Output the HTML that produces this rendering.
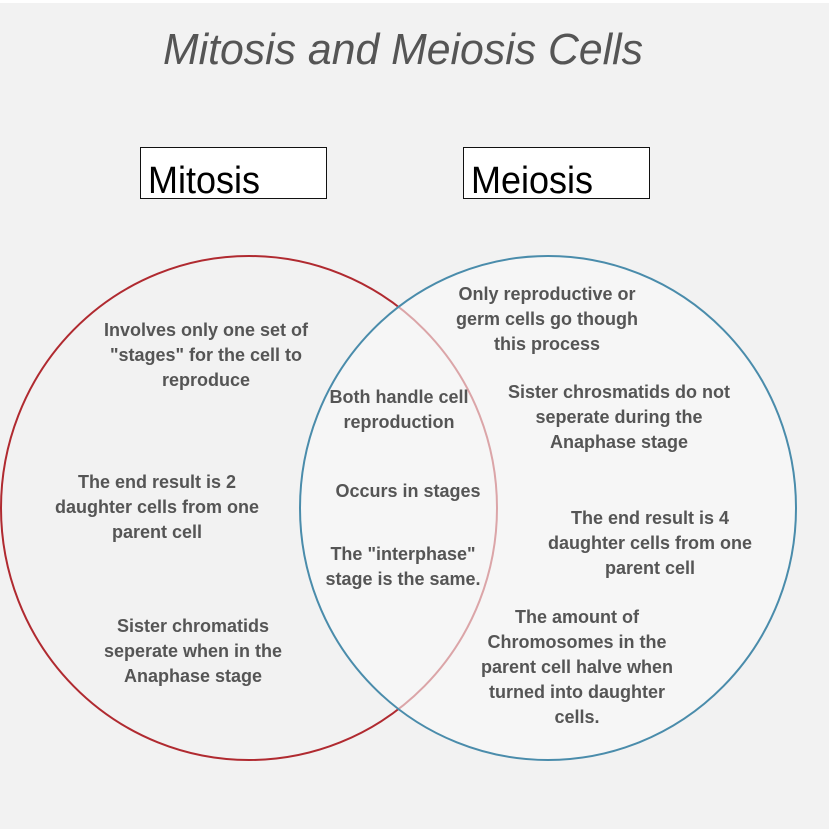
<!DOCTYPE html>
<html><head><meta charset="utf-8"><style>
html,body{margin:0;padding:0;background:#f2f2f2;}
svg{display:block;}
text{font-family:"Liberation Sans",Arial,sans-serif;}
.t{font-weight:bold;font-size:18px;fill:#555;text-anchor:middle;}
</style></head><body>
<svg width="829" height="829" viewBox="0 0 829 829" xmlns="http://www.w3.org/2000/svg">
<rect width="829" height="829" fill="#f2f2f2"/>
<rect x="0" y="0" width="829" height="3" fill="#ffffff"/>
<text x="403" y="64" font-size="44" font-style="italic" fill="#555" text-anchor="middle" textLength="480" lengthAdjust="spacingAndGlyphs">Mitosis and Meiosis Cells</text>
<rect x="140.5" y="147.5" width="186" height="51" fill="#fff" stroke="#111" stroke-width="1"/>
<text x="148" y="193" font-size="38" fill="#000" textLength="112" lengthAdjust="spacingAndGlyphs">Mitosis</text>
<rect x="463.5" y="147.5" width="186" height="51" fill="#fff" stroke="#111" stroke-width="1"/>
<text x="471" y="193" font-size="38" fill="#000" textLength="122" lengthAdjust="spacingAndGlyphs">Meiosis</text>
<ellipse cx="249" cy="508" rx="248" ry="252" fill="none" stroke="#b02a30" stroke-width="2"/>
<ellipse cx="548" cy="508" rx="248" ry="252" fill="rgba(248,248,248,0.6)" stroke="#4a8cab" stroke-width="2"/>
<g class="t">
<text class="t" x="206" y="336">Involves only one set of</text>
<text class="t" x="206" y="361">"stages" for the cell to</text>
<text class="t" x="206" y="386">reproduce</text>
<text class="t" x="157" y="488">The end result is 2</text>
<text class="t" x="157" y="513">daughter cells from one</text>
<text class="t" x="157" y="538">parent cell</text>
<text class="t" x="193" y="632">Sister chromatids</text>
<text class="t" x="193" y="657">seperate when in the</text>
<text class="t" x="193" y="682">Anaphase stage</text>
<text class="t" x="399" y="403">Both handle cell</text>
<text class="t" x="399" y="428">reproduction</text>
<text class="t" x="408" y="497">Occurs in stages</text>
<text class="t" x="403" y="560">The "interphase"</text>
<text class="t" x="403" y="585">stage is the same.</text>
<text class="t" x="547" y="300">Only reproductive or</text>
<text class="t" x="547" y="325">germ cells go though</text>
<text class="t" x="547" y="350">this process</text>
<text class="t" x="619" y="398">Sister chrosmatids do not</text>
<text class="t" x="619" y="423">seperate during the</text>
<text class="t" x="619" y="448">Anaphase stage</text>
<text class="t" x="650" y="524">The end result is 4</text>
<text class="t" x="650" y="549">daughter cells from one</text>
<text class="t" x="650" y="574">parent cell</text>
<text class="t" x="577" y="623">The amount of</text>
<text class="t" x="577" y="648">Chromosomes in the</text>
<text class="t" x="577" y="673">parent cell halve when</text>
<text class="t" x="577" y="698">turned into daughter</text>
<text class="t" x="577" y="723">cells.</text>
</g>
</svg>
</body></html>
